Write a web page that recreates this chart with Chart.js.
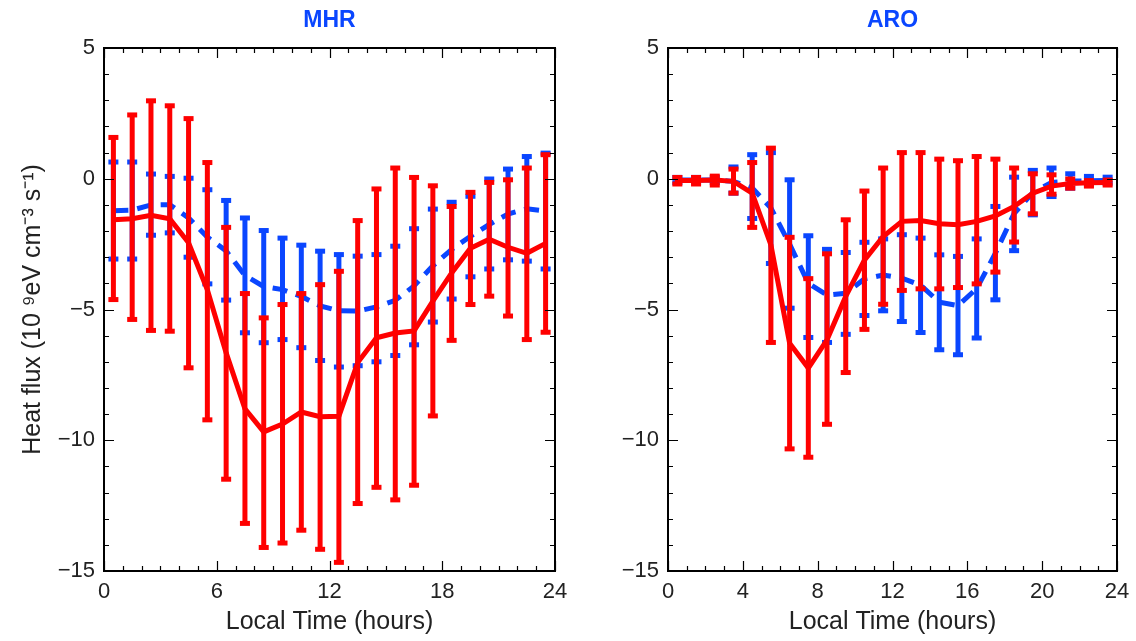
<!DOCTYPE html>
<html lang="en">
<head>
<meta charset="UTF-8">
<title>Heat flux vs local time - MHR / ARO</title>
<script src="https://cdn.jsdelivr.net/npm/chart.js@4.4.1/dist/chart.umd.min.js"></script>
<style>
  body { margin: 0; background: #fff; }
  .panel { position: absolute; top: 0; width: 570px; height: 641px; }
  #left { left: 0; }
  #right { left: 566px; }
</style>
</head>
<body>
<div class="panel" id="left"><canvas id="mhrChart"></canvas></div>
<div class="panel" id="right"><canvas id="aroChart"></canvas></div>

<script>
// local time bins (hour centres)
const hours = [0.5, 1.5, 2.5, 3.5, 4.5, 5.5, 6.5, 7.5, 8.5, 9.5, 10.5, 11.5,
               12.5, 13.5, 14.5, 15.5, 16.5, 17.5, 18.5, 19.5, 20.5, 21.5, 22.5, 23.5];

// MHR - red (solid)
const mhrRed   = [-1.57, -1.53, -1.40, -1.53, -2.45, -4.25, -6.66, -8.80, -9.68, -9.38, -8.92, -9.10,
                  -9.08, -7.03, -6.08, -5.90, -5.82, -4.68, -3.60, -2.66, -2.31, -2.62, -2.85, -2.47];
const mhrRedHi = [1.58, 2.44, 2.98, 2.79, 2.30, 0.62, -1.86, -4.39, -5.32, -4.81, -4.39, -4.05,
                  -3.54, -1.60, -0.39, 0.41, 0.05, -0.27, -1.06, -0.52, -0.14, -0.04, 0.41, 0.92];
const mhrRedLo = [-4.62, -5.38, -5.80, -5.83, -7.23, -9.22, -11.49, -13.18, -14.10, -13.93, -13.44, -14.17,
                  -14.67, -12.42, -11.80, -12.28, -11.72, -9.07, -6.18, -4.81, -4.49, -5.25, -6.15, -5.87];

// MHR - blue (dashed)
const mhrBlue   = [-1.22, -1.20, -1.00, -0.99, -1.50, -2.23, -2.76, -3.70, -4.12, -4.24, -4.50, -4.86,
                   -5.05, -5.06, -4.90, -4.65, -4.10, -3.33, -2.70, -2.20, -1.75, -1.35, -1.15, -1.24];
const mhrBlueHi = [0.64, 0.64, 0.18, 0.09, 0.02, -0.42, -0.83, -1.50, -1.98, -2.27, -2.54, -2.77,
                   -2.90, -2.96, -2.90, -2.58, -1.91, -1.16, -0.90, -0.67, -0.01, 0.37, 0.85, 0.98];
const mhrBlueLo = [-3.07, -3.07, -2.16, -2.07, -3.00, -4.02, -4.64, -5.89, -6.27, -6.15, -6.46, -6.95,
                   -7.20, -7.15, -7.00, -6.76, -6.35, -5.48, -4.60, -3.75, -3.45, -3.10, -3.15, -3.45];

// ARO - red (solid)
const aroRed   = [-0.07, -0.07, -0.05, -0.10, -0.55, -2.53, -6.29, -7.24, -6.16, -4.50, -3.11, -2.21,
                  -1.63, -1.60, -1.72, -1.76, -1.63, -1.42, -1.06, -0.55, -0.28, -0.18, -0.15, -0.14];
const aroRedHi = [0.05, 0.05, 0.10, 0.37, 0.62, 1.17, -2.24, -3.82, -2.87, -1.57, -0.47, 0.41,
                  1.00, 1.00, 0.75, 0.69, 0.85, 0.75, 0.41, 0.19, 0.15, -0.01, -0.07, -0.05];
const aroRedLo = [-0.20, -0.20, -0.24, -0.55, -1.86, -6.26, -10.33, -10.65, -9.39, -7.41, -5.76, -4.80,
                  -4.27, -4.21, -4.21, -4.16, -4.02, -3.57, -2.42, -1.34, -0.59, -0.36, -0.28, -0.24];

// ARO - blue (dashed)
const aroBlue   = [-0.05, -0.05, -0.05, -0.10, -0.35, -1.12, -2.50, -4.00, -4.45, -4.38, -3.83, -3.68,
                   -3.80, -4.07, -4.72, -4.85, -4.20, -2.85, -1.33, -0.53, -0.14, -0.09, -0.08, -0.06];
const aroBlueHi = [0.05, 0.05, 0.05, 0.45, 0.92, 1.00, -0.04, -2.18, -2.70, -2.82, -2.43, -2.30,
                   -2.14, -2.27, -2.91, -2.97, -2.30, -1.06, 0.06, 0.32, 0.41, 0.19, 0.09, 0.06];
const aroBlueLo = [-0.15, -0.15, -0.15, -0.55, -1.52, -3.24, -4.95, -6.07, -6.26, -5.95, -5.23, -5.05,
                   -5.46, -5.88, -6.54, -6.73, -6.09, -4.63, -2.75, -1.38, -0.68, -0.36, -0.24, -0.17];

const RED = '#ff0000';
const BLUE = '#0a46ff';
const FONT = "'Liberation Sans', Arial, Helvetica, sans-serif";

const minus = v => (v < 0 ? '\u2212' + Math.abs(v) : String(v));
const pts = (ys) => hours.map((h, i) => ({ x: h, y: ys[i] }));

// error bars drawn under each dataset's own line
const errorBars = {
  id: 'errorBars',
  beforeDatasetDraw(chart, args) {
    const ds = chart.data.datasets[args.index];
    if (!ds.errHi) return;
    const { ctx, chartArea, scales: { x, y } } = chart;
    ctx.save();
    ctx.beginPath();
    ctx.rect(chartArea.left, chartArea.top, chartArea.width, chartArea.height);
    ctx.clip();
    ctx.strokeStyle = ds.borderColor;
    ctx.fillStyle = ds.borderColor;
    ctx.lineWidth = 5;
    hours.forEach((h, i) => {
      const px = x.getPixelForValue(h);
      const yh = y.getPixelForValue(ds.errHi[i]);
      const yl = y.getPixelForValue(ds.errLo[i]);
      ctx.beginPath();
      ctx.moveTo(px, yh);
      ctx.lineTo(px, yl);
      ctx.stroke();
      ctx.fillRect(px - 5, yh - 2.5, 10, 5);
      ctx.fillRect(px - 5, yl - 2.5, 10, 5);
    });
    ctx.restore();
  }
};

// box round the plot with inward ticks on all four sides
const frame = {
  id: 'frame',
  afterDraw(chart) {
    const { ctx, chartArea: a, scales: { x, y } } = chart;
    const major = chart.options.scales.x.ticks.stepSize;
    ctx.save();
    ctx.strokeStyle = '#000';
    ctx.lineWidth = 1.2;
    ctx.beginPath();
    for (let h = 0; h <= 24; h++) {
      const px = Math.round(x.getPixelForValue(h)) + 0.5;
      const len = h % major === 0 ? 10 : 5;
      ctx.moveTo(px, a.bottom); ctx.lineTo(px, a.bottom - len);
      ctx.moveTo(px, a.top); ctx.lineTo(px, a.top + len);
    }
    for (let v = -15; v <= 5; v++) {
      const py = Math.round(y.getPixelForValue(v)) + 0.5;
      const len = v % 5 === 0 ? 10 : 5;
      ctx.moveTo(a.left, py); ctx.lineTo(a.left + len, py);
      ctx.moveTo(a.right, py); ctx.lineTo(a.right - len, py);
    }
    ctx.stroke();
    ctx.lineWidth = 2;
    ctx.strokeRect(a.left, a.top, a.width, a.height);
    ctx.restore();
  }
};

function makeChart(id, title, red, redHi, redLo, blue, blueHi, blueLo, opt) {
  return new Chart(document.getElementById(id), {
    type: 'line',
    data: {
      datasets: [
        { data: pts(red), errHi: redHi, errLo: redLo, borderColor: RED, borderWidth: 5,
          pointRadius: 0, tension: 0, fill: false, order: 0 },
        { data: pts(blue), errHi: blueHi, errLo: blueLo, borderColor: BLUE, borderWidth: 5,
          borderDash: [15, 9], pointRadius: 0, tension: 0, fill: false, order: 1 }
      ]
    },
    options: {
      responsive: true,
      maintainAspectRatio: false,
      animation: false,
      layout: { padding: { left: 0, right: opt.padRight, top: 0, bottom: 0 } },
      plugins: {
        legend: { display: false },
        tooltip: { enabled: false },
        title: {
          display: true, text: title, color: BLUE, fullSize: false,
          font: { family: FONT, size: 23, weight: 'bold' },
          padding: { top: 7, bottom: 13.4 }
        }
      },
      scales: {
        x: {
          type: 'linear', min: 0, max: 24,
          grid: { display: false }, border: { display: false },
          ticks: { stepSize: opt.xStep, autoSkip: false, maxRotation: 0, padding: 0,
                   color: '#222', font: { family: FONT, size: 22 } },
          title: { display: true, text: 'Local Time (hours)', color: '#222',
                   font: { family: FONT, size: 25 }, padding: { top: 0, bottom: 4 } },
          afterFit: s => { s.height = 70; }
        },
        y: {
          min: -15, max: 5,
          grid: { display: false }, border: { display: false },
          ticks: { stepSize: 5, padding: 1, color: '#222', callback: minus,
                   font: { family: FONT, size: 22 } },
          title: { display: opt.yTitle, text: 'Heat flux (10 \u2079eV cm\u207B\u00B3 s\u207B\u00B9)', color: '#222',
                   font: { family: FONT, size: 25 }, padding: { top: 18, bottom: 0 } },
          afterFit: s => { s.width = opt.yWidth; }
        }
      }
    },
    plugins: [errorBars, frame]
  });
}

makeChart('mhrChart', 'MHR', mhrRed, mhrRedHi, mhrRedLo, mhrBlue, mhrBlueHi, mhrBlueLo,
          { xStep: 6, yWidth: 104, padRight: 15, yTitle: true });
makeChart('aroChart', 'ARO', aroRed, aroRedHi, aroRedLo, aroBlue, aroBlueHi, aroBlueLo,
          { xStep: 4, yWidth: 102, padRight: 19, yTitle: false });
</script>
</body>
</html>
